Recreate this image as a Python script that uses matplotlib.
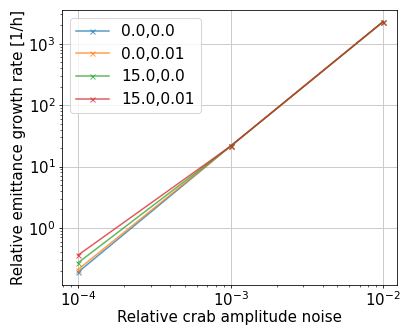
import numpy as np
import matplotlib
matplotlib.use('Agg')
import matplotlib.pyplot as plt

plt.rcParams['font.size'] = 15
plt.rcParams['xtick.major.size'] = 3
plt.rcParams['xtick.minor.size'] = 2
plt.rcParams['ytick.major.size'] = 3.5
plt.rcParams['ytick.minor.size'] = 2
plt.rcParams['xtick.major.pad'] = 2.5
plt.rcParams['ytick.major.pad'] = 3

# crab amplitude noise levels and growth rates per (offset, phase noise) case
noise = [1e-4, 1e-3, 1e-2]
labels = ['0.0,0.0', '0.0,0.01', '15.0,0.0', '15.0,0.01']
rate_00_00 = [0.19, 21.5, 2300.0]
rate_00_001 = [0.21, 21.5, 2300.0]
rate_15_00 = [0.27, 21.5, 2300.0]
rate_15_001 = [0.36, 21.5, 2300.0]
rates = [rate_00_00, rate_00_001, rate_15_00, rate_15_001]


def main():
    fig, ax = plt.subplots(figsize=(402 / 72, 325 / 72), dpi=72)
    for lab, r in zip(labels, rates):
        ax.plot(noise, r, marker='x', markersize=5, linewidth=1.5, alpha=0.75, label=lab)

    ax.set_xscale('log')
    ax.set_yscale('log')
    ax.set_xlim(10 ** -4.105, 10 ** -1.91)
    ax.set_ylim(10 ** -0.93, 10 ** 3.55)
    ax.grid(True, which='major', color='#cccccc', linewidth=1.0)
    ax.set_xlabel('Relative crab amplitude noise', labelpad=1)
    ax.set_ylabel('Relative emittance growth rate [1/h]', labelpad=2)
    ax.legend(loc='upper left', fontsize=15.5, handlelength=2.1)

    fig.subplots_adjust(left=62 / 402, right=397 / 402, top=1 - 10 / 325, bottom=1 - 285 / 325)
    fig.savefig('out.png', dpi=72)


if __name__ == '__main__':
    main()
